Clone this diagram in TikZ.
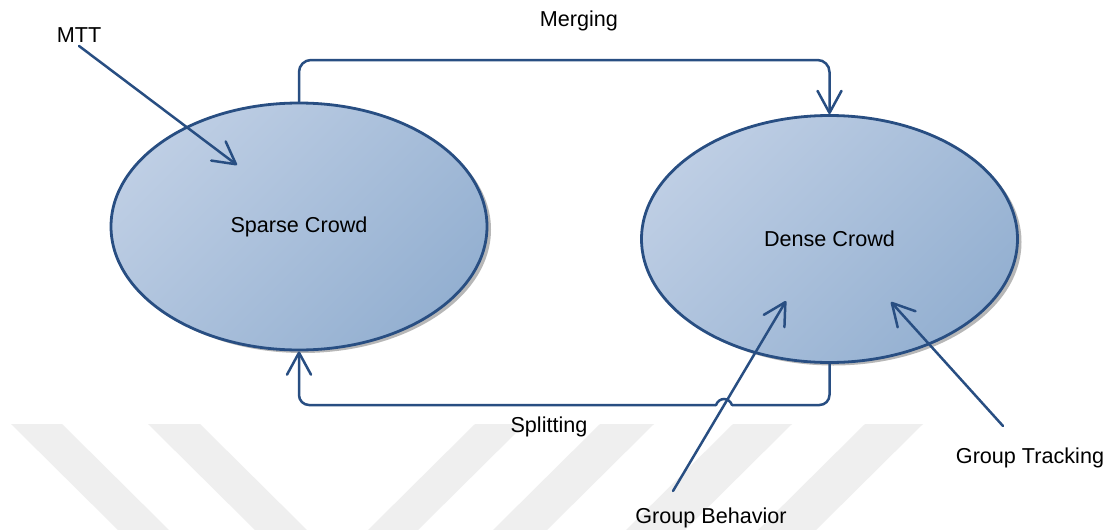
\documentclass[tikz,border=0pt]{standalone}
\usepackage{fontspec}
\setmainfont{Liberation Sans}
\usetikzlibrary{arrows.meta,shapes.geometric,shadows}
\definecolor{lineblue}{RGB}{40,78,130}
\definecolor{fillA}{RGB}{190,206,228}
\definecolor{fillB}{RGB}{148,176,209}
\definecolor{wmgray}{RGB}{239,239,239}
\begin{document}
\begin{tikzpicture}[x=1pt,y=-1pt,
  every node/.style={font=\fontsize{21.6}{26}\selectfont, text=black},
  crowd/.style={ellipse, draw=lineblue, line width=2.8pt, minimum width=376pt,
    minimum height=247pt, inner sep=0pt, top color=fillA, bottom color=fillB,
    shading angle=45,
    drop shadow={shadow xshift=4pt, shadow yshift=-3pt, fill=black!40, opacity=0.7}},
  conn/.style={draw=lineblue, line width=2.5pt, line cap=round, line join=round,
    -{Straight Barb[length=22pt,width=24pt,line cap=round,line join=round]}},
  plainline/.style={draw=lineblue, line width=2.5pt, line cap=round},
  stripe/.style={fill=wmgray, draw=none}]
\useasboundingbox (0,0) rectangle (1112,530);
\fill[white] (0,0) rectangle (1112,530);
% watermark stripes
\fill[stripe] (11,424) -- (62,424) -- (169,530) -- (118,530) -- cycle;
\fill[stripe] (148,424) -- (200,424) -- (307,530) -- (255,530) -- cycle;
\fill[stripe] (475,424) -- (525,424) -- (418,530) -- (368,530) -- cycle;
\fill[stripe] (600,424) -- (654,424) -- (547,530) -- (493,530) -- cycle;
\fill[stripe] (733,424) -- (792,424) -- (685,530) -- (626,530) -- cycle;
\fill[stripe] (865,424) -- (923,424) -- (816,530) -- (758,530) -- cycle;

% ellipses
\node[crowd] (S) at (299,226.5) {Sparse Crowd};
\node[crowd] (D) at (829.5,239) {Dense Crowd};

% labels
\node (mtt) at (79,35) {MTT};
\node (merg) at (579,21) {Merging};
\node (split) at (549,427) {Splitting};
\node (gt) at (1030,458) {Group Tracking};
\node (gb) at (711,518) {Group Behavior};

% helper coordinates
\coordinate (mtop) at (0,60);
\coordinate (sbot) at (0,405);
\coordinate (hopR) at (732,405);
\coordinate (hopL) at (716,405);
\coordinate (mttTip) at (237,165);
\coordinate (gbT) at (673,491);
\coordinate (gbTip) at (786,301);
\coordinate (gtT) at (1003,426);
\coordinate (gtTip) at (891,302);

% merging
\draw[conn, rounded corners=12pt] (S.north) -- (S.north |- mtop) -| (D.north);
% splitting with line jump
\draw[plainline, rounded corners=10pt] (D.south) |- (hopR);
\draw[plainline] (hopR) .. controls (729,397) and (719,397) .. (hopL);
\draw[conn, rounded corners=10pt] (hopL) -| (S.south);

% incoming arrows
\draw[conn] (mtt.south) -- (mttTip);
\draw[conn] (gbT) -- (gbTip);
\draw[conn] (gtT) -- (gtTip);
\end{tikzpicture}
\end{document}
